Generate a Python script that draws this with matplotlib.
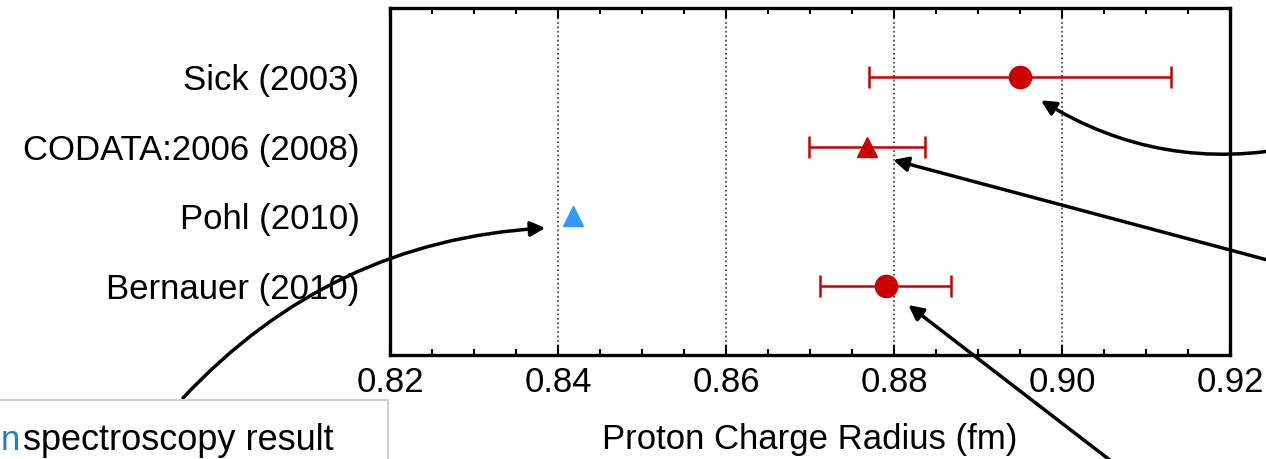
import matplotlib
matplotlib.use("Agg")
import matplotlib.pyplot as plt
from matplotlib.ticker import MultipleLocator
from matplotlib.patches import Rectangle

plt.rcParams['font.family'] = ['Liberation Sans', 'DejaVu Sans']

labels = ['Sick (2003)', 'CODATA:2006 (2008)', 'Pohl (2010)', 'Bernauer (2010)']
radius = [0.895, 0.8768, 0.8418, 0.879]
error = [0.018, 0.0069, 0.0007, 0.0078]
markers = ['o', '^', '^', 'o']
colors = ['#cc0000', '#cc0000', '#3399ff', '#cc0000']
ypos = [4, 3, 2, 1]

fig = plt.figure(figsize=(12.66, 4.59), dpi=100)
ax = fig.add_axes([390 / 1266, 1 - 355 / 459, 840 / 1266, 347 / 459])

for x, e, m, c, y in zip(radius, error, markers, colors, ypos):
    if c == '#cc0000':
        ax.errorbar(x, y, xerr=e, fmt=m, color=c, ms=16 if m == 'o' else 14,
                    elinewidth=1.8, capsize=8, capthick=1.8, zorder=3)
    else:
        ax.plot(x, y, m, color=c, ms=14, zorder=3)

ax.set_xlim(0.82, 0.92)
ax.set_ylim(0, 5)
ax.xaxis.set_minor_locator(MultipleLocator(0.005))
ax.set_xticks([0.82, 0.84, 0.86, 0.88, 0.90, 0.92])
ax.set_xticklabels(['0.82', '0.84', '0.86', '0.88', '0.90', '0.92'], fontsize=25)
ax.set_yticks(ypos)
ax.set_yticklabels(labels, fontsize=25)
ax.tick_params(axis='x', which='major', direction='in', length=7, width=1.5, top=True, pad=8)
ax.tick_params(axis='x', which='minor', direction='in', length=4, width=1.5, top=True)
ax.tick_params(axis='y', length=0, pad=22)
ax.grid(axis='x', which='major', linestyle=':', color='#333333', lw=1.2)
for s in ax.spines.values():
    s.set_linewidth(2.4)
ax.set_xlabel('Proton Charge Radius (fm)', fontsize=25, labelpad=17)

# callout arrows coming in from outside the panel
arrow = dict(arrowstyle='-|>', color='black', lw=2.5, mutation_scale=22, shrinkA=0, shrinkB=0)
ax.annotate('', xy=(0.8975, 3.67), xycoords='data', xytext=(1300, 313),
            textcoords='figure pixels', annotation_clip=False,
            arrowprops=dict(arrow, connectionstyle='arc3,rad=-0.2'))
ax.annotate('', xy=(0.8799, 2.81), xycoords='data', xytext=(1275, 197),
            textcoords='figure pixels', annotation_clip=False, arrowprops=arrow)
ax.annotate('', xy=(0.8817, 0.72), xycoords='data', xytext=(1128, -15),
            textcoords='figure pixels', annotation_clip=False, arrowprops=arrow)
ax.annotate('', xy=(0.8385, 1.83), xycoords='data', xytext=(183, 61),
            textcoords='figure pixels', annotation_clip=False,
            arrowprops=dict(arrow, connectionstyle='arc3,rad=-0.2'))

# note box at bottom left
box = Rectangle((-20 / 1266, -40 / 459), 408 / 1266, 99 / 459, transform=fig.transFigure,
                facecolor='white', edgecolor='#d0d0d0', lw=1.5, zorder=5)
fig.patches.append(box)
fig.text(0.5 / 1266, 9 / 459, 'n', color='#1a7fd4', fontsize=25, ha='left', zorder=6)
fig.text(23 / 1266, 9 / 459, 'spectroscopy result', color='black', fontsize=26, ha='left', zorder=6)

fig.savefig('out.png', dpi=100)
